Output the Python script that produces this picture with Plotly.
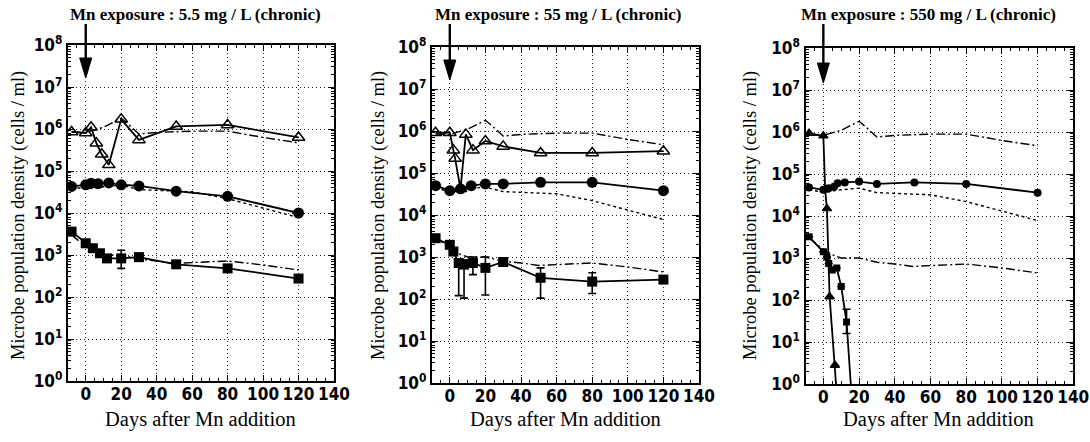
import plotly.graph_objects as go

W, H = 1090, 442

# ---------------- data ----------------
panel_titles = ["Mn exposure : 5.5 mg / L (chronic)",
                "Mn exposure : 55 mg / L (chronic)",
                "Mn exposure : 550 mg / L (chronic)"]
x_title = "Days after Mn addition"
y_title = "Microbe population density (cells / ml)"
x_ticks = [0, 20, 40, 60, 80, 100, 120, 140]
y_tickvals = [1, 10, 100, 1e3, 1e4, 1e5, 1e6, 1e7, 1e8]
y_ticktext = ["10<sup>0</sup>", "10<sup>1</sup>", "10<sup>2</sup>", "10<sup>3</sup>",
              "10<sup>4</sup>", "10<sup>5</sup>", "10<sup>6</sup>", "10<sup>7</sup>",
              "10<sup>8</sup>"]
mn_addition_day = 0

# control curves (no Mn), identical in each panel
ctrl_hi_days = [-8, 0, 10, 20, 24, 30, 40, 60, 80, 100, 120]
ctrl_hi_vals = [8.5e5, 8.3e5, 1.1e6, 1.8e6, 1.3e6, 7.6e5, 8.3e5, 8.9e5, 8.9e5, 6.3e5, 4.7e5]
ctrl_mid_days = [-8, 0, 10, 20, 30, 40, 50, 60, 80, 100, 120]
ctrl_mid_vals = [4.2e4, 3.7e4, 4.2e4, 4.6e4, 3.6e4, 3.5e4, 3.3e4, 3.2e4, 2.2e4, 1.3e4, 7.8e3]
ctrl_lo_days = [-8, 0, 5, 10, 20, 30, 40, 50, 60, 80, 100, 120]
ctrl_lo_vals = [3.0e3, 1.6e3, 1.2e3, 1.0e3, 1.0e3, 7.9e2, 7.2e2, 6.3e2, 6.6e2, 7.2e2, 5.8e2, 4.4e2]

# panel 1 : 5.5 mg/L
tri_days_1 = [-8, 0, 3, 6, 9, 13, 20, 30, 51, 80, 120]
tri_vals_1 = [8.5e5, 8.0e5, 1.1e6, 4.6e5, 2.5e5, 1.4e5, 1.7e6, 5.5e5, 1.15e6, 1.25e6, 6.3e5]
circ_days_1 = [-8, 0, 3, 7, 13, 20, 30, 51, 80, 120]
circ_vals_1 = [4.3e4, 4.7e4, 5.1e4, 5.0e4, 5.2e4, 4.7e4, 4.4e4, 3.3e4, 2.5e4, 1.0e4]
sq_days_1 = [-8, 0, 4, 8, 12, 20, 30, 51, 80, 120]
sq_vals_1 = [3.6e3, 1.9e3, 1.45e3, 1.1e3, 8.3e2, 8.3e2, 8.9e2, 6.0e2, 4.8e2, 2.75e2]
sq_hi_1 = [3.6e3, 1.9e3, 1.45e3, 1.1e3, 8.3e2, 1.3e3, 8.9e2, 6.0e2, 4.8e2, 2.75e2]
sq_lo_1 = [3.6e3, 1.9e3, 1.45e3, 1.1e3, 8.3e2, 4.8e2, 8.9e2, 6.0e2, 4.8e2, 2.75e2]

# panel 2 : 55 mg/L
tri_days_2 = [-8, 0, 2, 3, 6, 9, 13, 20, 30, 51, 80, 120]
tri_vals_2 = [9.1e5, 9.1e5, 3.5e5, 2.2e5, 4.2e4, 8.3e5, 3.5e5, 5.8e5, 4.3e5, 3.0e5, 3.0e5, 3.3e5]
circ_days_2 = [-8, 0, 6, 12, 20, 30, 51, 80, 120]
circ_vals_2 = [5.0e4, 3.8e4, 4.2e4, 5.0e4, 5.5e4, 5.5e4, 6.0e4, 6.0e4, 3.8e4]
sq_days_2 = [-8, 0, 2, 5, 8, 13, 20, 30, 51, 80, 120]
sq_vals_2 = [2.8e3, 1.95e3, 1.35e3, 7.2e2, 6.6e2, 7.2e2, 5.5e2, 7.6e2, 3.2e2, 2.6e2, 2.9e2]
sq_hi_2 = [2.8e3, 1.95e3, 1.35e3, 9.0e2, 8.5e2, 1.0e3, 1.0e3, 8.5e2, 5.5e2, 4.2e2, 2.9e2]
sq_lo_2 = [2.8e3, 1.95e3, 1.35e3, 1.2e2, 1.05e2, 3.8e2, 1.25e2, 6.5e2, 1.05e2, 1.35e2, 2.9e2]

# panel 3 : 550 mg/L
tri_days_3 = [-8, 0, 1, 2, 3.5, 6.5, 8]
tri_vals_3 = [9.3e5, 8.1e5, 4.2e4, 1.5e4, 1.2e2, 2.8, 0.3]
circ_days_3 = [-8, 0, 3, 6, 8, 12, 20, 30, 51, 80, 120]
circ_vals_3 = [4.8e4, 4.2e4, 4.6e4, 5.0e4, 6.0e4, 6.3e4, 6.6e4, 5.8e4, 6.3e4, 5.8e4, 3.6e4]
sq_days_3 = [-8, 0, 2, 3, 5, 7.5, 10, 13, 16]
sq_vals_3 = [3.2e3, 1.4e3, 1.05e3, 7.4e2, 5.2e2, 5.8e2, 2.1e2, 30, 0.4]
sq_hi_3 = [3.2e3, 1.4e3, 1.05e3, 7.4e2, 5.2e2, 5.8e2, 2.1e2, 60, 0.4]
sq_lo_3 = [3.2e3, 1.4e3, 1.05e3, 7.4e2, 5.2e2, 5.8e2, 2.1e2, 16, 0.4]

panels = [
    dict(tri=(tri_days_1, tri_vals_1), circ=(circ_days_1, circ_vals_1),
         sq=(sq_days_1, sq_vals_1, sq_hi_1, sq_lo_1), msize=10, tri_sym="triangle-up-open"),
    dict(tri=(tri_days_2, tri_vals_2), circ=(circ_days_2, circ_vals_2),
         sq=(sq_days_2, sq_vals_2, sq_hi_2, sq_lo_2), msize=10, tri_sym="triangle-up-open"),
    dict(tri=(tri_days_3, tri_vals_3), circ=(circ_days_3, circ_vals_3),
         sq=(sq_days_3, sq_vals_3, sq_hi_3, sq_lo_3), msize=7, tri_sym="triangle-up"),
]

# ---------------- layout geometry (pixels) ----------------
plot_px = [(68, 334, 45, 381), (432, 699, 47, 383), (805.5, 1073.3, 48, 384)]
title_cx = [195, 558, 928]
ytitle_cx = [18, 378, 750]
xtitle_cx = [200, 565, 938]
arrow_tip_py = [78, 80, 83]
arrow_top_py = 24


def fx(px):
    return px / W


def fy(py):
    return 1 - py / H


SERIF = "Liberation Serif"
TICKFONT = "Liberation Sans Narrow, DejaVu Sans Condensed, Liberation Serif"
fig = go.Figure()

for i, p in enumerate(panels):
    ax = "" if i == 0 else str(i + 1)
    xa, ya = "x" + ax, "y" + ax

    def add(x, y, **kw):
        fig.add_trace(go.Scatter(x=x, y=y, xaxis=xa, yaxis=ya, showlegend=False,
                                 hoverinfo="skip", **kw))

    add(ctrl_hi_days, ctrl_hi_vals, mode="lines",
        line=dict(color="black", width=1.4, dash="9px,3px,2px,3px"))
    add(ctrl_mid_days, ctrl_mid_vals, mode="lines",
        line=dict(color="black", width=1.4, dash="3px,3px"))
    add(ctrl_lo_days, ctrl_lo_vals, mode="lines",
        line=dict(color="black", width=1.4, dash="9px,3px,2px,3px"))

    d, v = p["tri"]
    add(d, v, mode="lines+markers", line=dict(color="black", width=1.8),
        marker=dict(symbol=p["tri_sym"], size=p["msize"] + 1, color="black",
                    line=dict(color="black", width=1.5)))
    d, v = p["circ"]
    add(d, v, mode="lines+markers", line=dict(color="black", width=1.8),
        marker=dict(symbol="circle", size=p["msize"] + 1, color="black"))
    d, v, hi, lo = p["sq"]
    add(d, v, mode="lines+markers", line=dict(color="black", width=1.8),
        marker=dict(symbol="square", size=p["msize"], color="black"),
        error_y=dict(type="data", symmetric=False,
                     array=[h - y for h, y in zip(hi, v)],
                     arrayminus=[y - l for l, y in zip(lo, v)],
                     color="black", thickness=1.6, width=4))

    x0, x1, y0, y1 = plot_px[i]
    common = dict(showline=True, linecolor="black", linewidth=2.4, mirror="allticks",
                  ticks="inside", tickcolor="black", tickwidth=1.4, ticklen=6,
                  showgrid=True, gridcolor="#222", gridwidth=1, griddash="1px,3px",
                  zeroline=False, automargin=False,
                  tickfont=dict(family=TICKFONT, size=17, color="black", weight="bold"))
    fig.layout["xaxis" + ax] = dict(
        common, domain=[fx(x0), fx(x1)], anchor=ya, range=[-10, 140],
        tickvals=x_ticks, ticklabelstandoff=-4,
        minor=dict(ticks="inside", ticklen=3, tickcolor="black", tickwidth=1.2,
                   dtick=5, tick0=0, showgrid=False))
    fig.layout["yaxis" + ax] = dict(
        common, domain=[fy(y1), fy(y0)], anchor=xa, type="log", range=[0, 8],
        tickvals=y_tickvals, ticktext=y_ticktext,
        minor=dict(ticks="inside", ticklen=3, tickcolor="black", tickwidth=1.2,
                   dtick="D1", showgrid=False))

    # panel title
    fig.add_annotation(text="<b>" + panel_titles[i] + "</b>", xref="paper", yref="paper",
                       x=fx(title_cx[i]), y=fy(15), xanchor="center", yanchor="middle",
                       showarrow=False, font=dict(family=SERIF, size=17, color="black"))
    # axis titles
    fig.add_annotation(text=y_title, xref="paper", yref="paper",
                       x=fx(ytitle_cx[i]), y=fy(216), xanchor="center", yanchor="middle",
                       textangle=-90, showarrow=False,
                       font=dict(family=SERIF, size=18.5, color="black"))
    fig.add_annotation(text=x_title, xref="paper", yref="paper",
                       x=fx(xtitle_cx[i]), y=fy(419), xanchor="center", yanchor="middle",
                       showarrow=False, font=dict(family=SERIF, size=20.5, color="black"))

    # Mn addition arrow at day 0 (shaft + narrow, long head)
    days_per_px = 150.0 / (x1 - x0)
    half_w = 6 * days_per_px
    tip = arrow_tip_py[i]
    fig.add_shape(type="line", xref=xa, yref="paper",
                  x0=mn_addition_day, x1=mn_addition_day,
                  y0=fy(arrow_top_py), y1=fy(tip - 16),
                  line=dict(color="black", width=2.4))
    fig.add_shape(type="path", xref=xa, yref="paper",
                  path=(f"M {mn_addition_day - half_w},{fy(tip - 20)} "
                        f"L {mn_addition_day + half_w},{fy(tip - 20)} "
                        f"L {mn_addition_day},{fy(tip)} Z"),
                  fillcolor="black", line=dict(color="black", width=1))

fig.update_layout(width=W, height=H,
                  margin=dict(l=0, r=0, t=0, b=0, pad=0, autoexpand=False),
                  paper_bgcolor="white", plot_bgcolor="white")
fig.write_html("out.html", config={"displayModeBar": False},
               post_script="document.body.style.margin='0';document.body.style.padding='0';")
